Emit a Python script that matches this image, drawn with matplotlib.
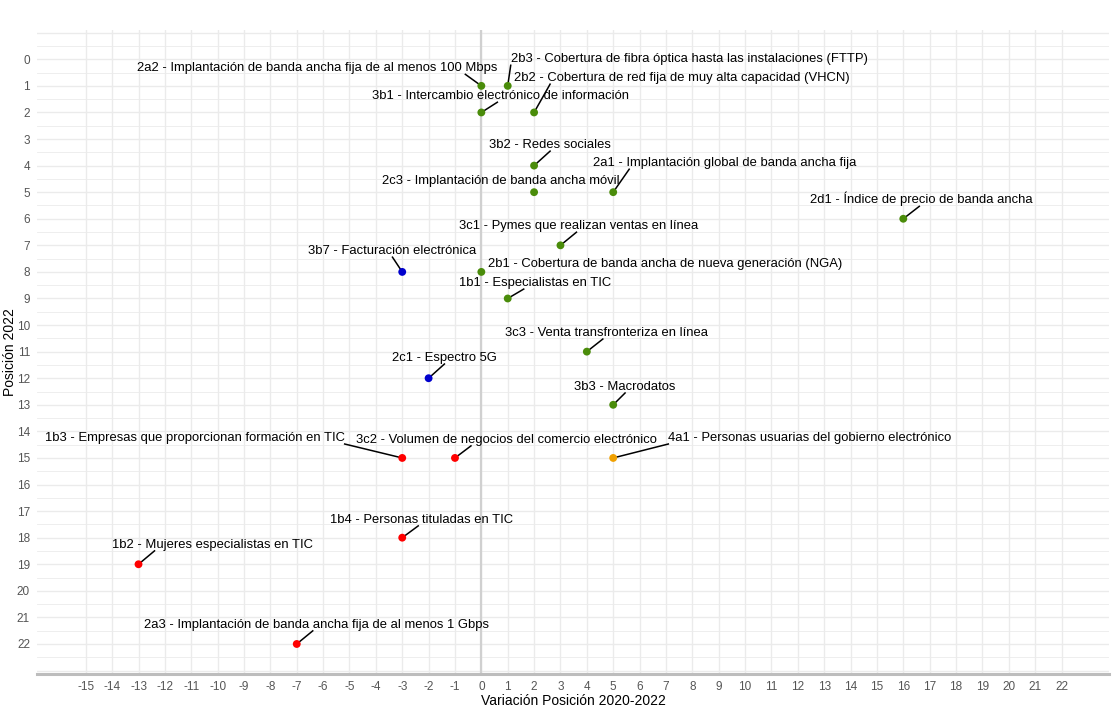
import numpy as np
import matplotlib
matplotlib.use("Agg")
import matplotlib.pyplot as plt

plt.rcParams["font.family"] = ["Liberation Sans", "DejaVu Sans"]
plt.rcParams["axes.unicode_minus"] = False

labels = [
    "2a2 - Implantación de banda ancha fija de al menos 100 Mbps",
    "2b3 - Cobertura de fibra óptica hasta las instalaciones (FTTP)",
    "2b2 - Cobertura de red fija de muy alta capacidad (VHCN)",
    "3b1 - Intercambio electrónico de información",
    "3b2 - Redes sociales",
    "2a1 - Implantación global de banda ancha fija",
    "2c3 - Implantación de banda ancha móvil",
    "2d1 - Índice de precio de banda ancha",
    "3c1 - Pymes que realizan ventas en línea",
    "3b7 - Facturación electrónica",
    "2b1 - Cobertura de banda ancha de nueva generación (NGA)",
    "1b1 - Especialistas en TIC",
    "3c3 - Venta transfronteriza en línea",
    "2c1 - Espectro 5G",
    "3b3 - Macrodatos",
    "1b3 - Empresas que proporcionan formación en TIC",
    "3c2 - Volumen de negocios del comercio electrónico",
    "4a1 - Personas usuarias del gobierno electrónico",
    "1b4 - Personas tituladas en TIC",
    "1b2 - Mujeres especialistas en TIC",
    "2a3 - Implantación de banda ancha fija de al menos 1 Gbps",
]
variacion = [0, 1, 2, 0, 2, 5, 2, 16, 3, -3, 0, 1, 4, -2, 5, -3, -1, 5, -3, -13, -7]
posicion = [1, 1, 2, 2, 4, 5, 5, 6, 7, 8, 8, 9, 11, 12, 13, 15, 15, 15, 18, 19, 22]
grupo = ["g", "g", "g", "g", "g", "g", "g", "g", "g", "b", "g", "g", "g", "b", "g",
         "r", "r", "o", "r", "r", "r"]

# where the repelled labels ended up (label centre, data units)
label_x = [-6.21, 7.88, 7.61, 0.72, 2.61, 9.24, 0.72, 16.70, 3.67, -3.37, 6.97,
           2.05, 4.73, -1.40, 5.45, -10.87, 0.95, 12.46, -2.27, -10.19, -6.25]
label_y = [0.34, 0.0, 0.71, 1.39, 3.23, 3.91, 4.59, 5.26, 6.28, 7.22, 7.71,
           8.42, 10.30, 11.24, 12.33, 14.25, 14.32, 14.25, 17.33, 18.27, 21.28]

colores = {"g": "#4A8C0A", "b": "#0000CD", "r": "#FF0000", "o": "#F0A000"}

fig = plt.figure(figsize=(11.14, 7.26), dpi=100)
ax = fig.add_axes([0.0332, 0.0716, 0.9623, 0.887])

xmin, xmax = -16.85, 23.8
ymin, ymax = -1.1, 23.13
ax.set_xlim(xmin, xmax)
ax.set_ylim(ymax, ymin)

# grid like theme_minimal
for yv in np.arange(-1, 23.01, 0.5):
    lw = 1.0 if float(yv).is_integer() else 0.6
    ax.axhline(yv, color="#EBEBEB", lw=lw, zorder=0)
for xv in range(-15, 23):
    ax.axvline(xv, color="#EBEBEB", lw=1.0, zorder=0)
ax.axvline(0, color="#D0D0D0", lw=1.6, zorder=1)
ax.axhline(ymax, color="#BDBDBD", lw=2.2, zorder=1, clip_on=False)

for s in ax.spines.values():
    s.set_visible(False)
ax.set_xticks(range(-15, 23))
ax.set_yticks(range(0, 23))
ax.tick_params(length=0, labelsize=8.5, labelcolor="#555555", pad=5)
ax.set_xlabel("Variación Posición 2020-2022", fontsize=10, labelpad=1)
ax.set_ylabel("Posición 2022", fontsize=10)
ax.yaxis.set_label_coords(-0.0185, 0.5)

cols = [colores[g] for g in grupo]
ax.scatter(variacion, posicion, s=32, c=cols, zorder=4, linewidths=0)

texts = []
for lab, tx, ty in zip(labels, label_x, label_y):
    t = ax.text(tx, ty, lab, ha="center", va="center", fontsize=9.4, color="black", zorder=5)
    texts.append(t)

# leader segments: point -> nearest point of the label box,
# nudged a bit toward the label centre when the point sits under/over the box
fig.canvas.draw()
renderer = fig.canvas.get_renderer()
inv = ax.transData.inverted()
for t, px, py in zip(texts, variacion, posicion):
    bb = t.get_window_extent(renderer)
    p = ax.transData.transform((px, py))
    cx = (bb.x0 + bb.x1) / 2
    qx = min(max(p[0], bb.x0), bb.x1)
    qy = min(max(p[1], bb.y0), bb.y1)
    if bb.x0 < p[0] < bb.x1:
        step = min(abs(cx - qx), 16)
        qx += np.sign(cx - qx) * step
    q = np.array([qx, qy])
    v = q - p
    dist = np.hypot(*v)
    if np.hypot(min(max(p[0], bb.x0), bb.x1) - p[0], qy - p[1]) < 9:
        continue
    start = p + v / dist * 3
    a = inv.transform(start)
    b = inv.transform(q)
    ax.plot([a[0], b[0]], [a[1], b[1]], color="black", lw=1.1, zorder=3)

fig.savefig("out.png", dpi=100)
